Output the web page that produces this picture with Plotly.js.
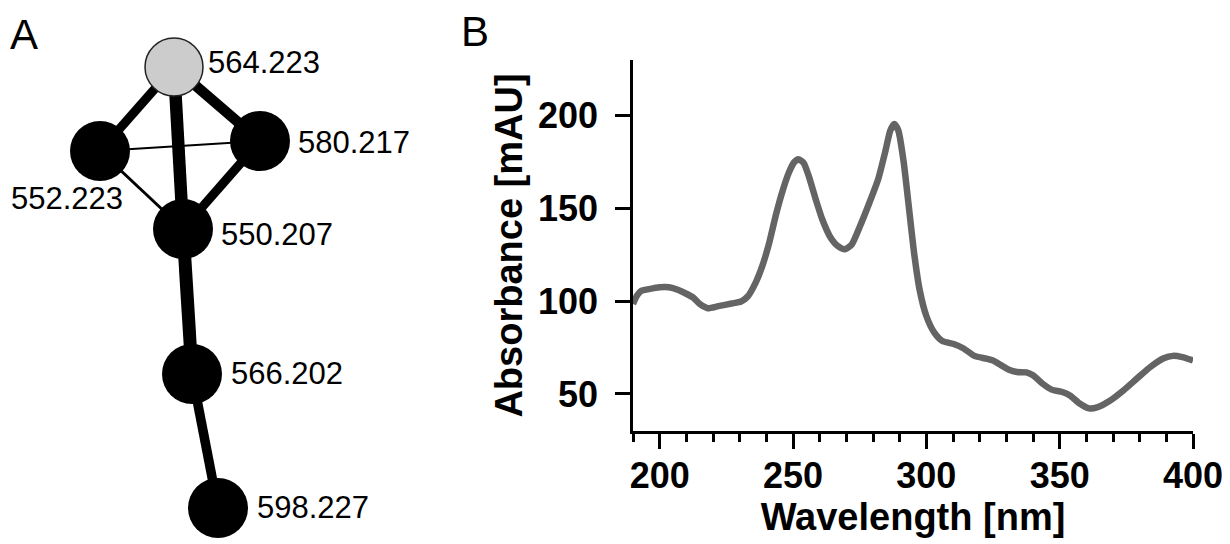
<!DOCTYPE html>
<html>
<head>
<meta charset="utf-8">
<script src="https://cdn.plot.ly/plotly-3.0.1.min.js"></script>
<style>
  html, body { margin: 0; padding: 0; background: #ffffff; }
  #chart { width: 1230px; height: 544px; }
</style>
</head>
<body>
<div id="chart"></div>
<script>
// ---------- Panel A: network ----------
const nodeLabels = ['564.223', '552.223', '580.217', '550.207', '566.202', '598.227'];
const nodeLayoutX = [17.4, 10.0, 26.0, 18.3, 19.2, 21.8];
const nodeLayoutY = [47.7, 39.3, 40.3, 31.5, 17.0, 3.6];
const nodeHighlighted = [true, false, false, false, false, false];
const edgeFrom = [0, 0, 0, 1, 1, 2, 3, 4];
const edgeTo = [1, 2, 3, 2, 3, 3, 4, 5];
const edgeWeight = [4.5, 5.25, 6.25, 1, 1.5, 4.5, 6.5, 4.75];

// ---------- Panel B: UV spectrum ----------
const wavelength = [190, 191.5, 193, 196, 200, 203.5, 207, 210, 212.5, 215, 218, 222, 227, 230.5, 233, 236,
  238.5, 241, 243.5, 246, 248.5, 250.5, 252, 254, 256, 258.5, 261, 264, 267, 269.5, 272, 275, 278.5, 282,
  284.5, 286.5, 288, 289.5, 291.5, 293.5, 295.5, 297.5, 300, 303, 306, 310.5, 314, 318, 322.5, 325, 328,
  331, 334, 337.5, 340, 343.5, 347, 351, 354, 357.5, 361, 364, 368.5, 374, 379, 384, 389, 392.5, 396, 400];
const absorbance = [98.5, 103, 105.5, 106.5, 107.5, 107.5, 106, 104, 102, 98.5, 96.2, 97.3, 98.7, 99.8, 102.5, 110,
  119, 131, 146, 159, 169.5, 175, 176.5, 174.5, 167, 155, 144, 134.5, 129.5, 128, 130.5, 140, 152.5, 166,
  180, 192, 195.5, 192, 175, 150, 125, 106, 92, 83, 78.5, 76.8, 74.5, 70.5, 69, 68, 65.5,
  63, 61.8, 61.6, 60, 55.6, 52.3, 51, 49, 44.8, 42.2, 42.7, 46, 52, 58.3, 64.5, 69.2, 70.5, 69.8, 68];
const xTickStart = 200, xTickStep = 50, xMinorStep = 10;
const yTickStart = 50, yTickStep = 50;
const xTitle = 'Wavelength [nm]';
const yTitle = 'Absorbance [mAU]';

// ---------- build ----------
const W = 1230, H = 544;
const FONT = 'Liberation Sans, Arial, Helvetica, sans-serif';
const traces = [];

edgeFrom.forEach((f, i) => {
  const t = edgeTo[i];
  traces.push({
    type: 'scatter', mode: 'lines', xaxis: 'x2', yaxis: 'y2',
    x: [nodeLayoutX[f], nodeLayoutX[t]], y: [nodeLayoutY[f], nodeLayoutY[t]],
    line: { color: '#000000', width: edgeWeight[i] * 2 },
    hoverinfo: 'skip', showlegend: false
  });
});

traces.push({
  type: 'scatter', mode: 'markers', xaxis: 'x2', yaxis: 'y2',
  x: nodeLayoutX, y: nodeLayoutY, text: nodeLabels, hoverinfo: 'text',
  marker: {
    size: nodeHighlighted.map(h => h ? 58 : 60),
    opacity: 1,
    color: nodeHighlighted.map(h => h ? '#cccccc' : '#000000'),
    line: { color: '#222222', width: nodeHighlighted.map(h => h ? 1.5 : 0) }
  },
  showlegend: false
});

traces.push({
  type: 'scatter', mode: 'lines', xaxis: 'x', yaxis: 'y',
  x: wavelength, y: absorbance,
  line: { color: '#646464', width: 6.5, shape: 'spline', smoothing: 0.6 },
  showlegend: false
});

// label offsets (px) for node labels
const labelStyle = [
  { xanchor: 'left', xshift: 32, yshift: 5 },
  { xanchor: 'right', xshift: 25, yshift: -47 },
  { xanchor: 'left', xshift: 36, yshift: -1 },
  { xanchor: 'left', xshift: 36, yshift: -5.5 },
  { xanchor: 'left', xshift: 37, yshift: 1 },
  { xanchor: 'left', xshift: 37, yshift: 1 }
];
const annotations = nodeLabels.map((lab, i) => Object.assign({
  xref: 'x2', yref: 'y2', x: nodeLayoutX[i], y: nodeLayoutY[i], text: lab,
  showarrow: false, yanchor: 'middle',
  font: { family: FONT, size: 31, color: '#000000' }
}, labelStyle[i]));

annotations.push({
  xref: 'paper', yref: 'paper', x: 8 / W, y: 1 - 34 / H, xanchor: 'left', yanchor: 'middle',
  text: 'A', showarrow: false, font: { family: FONT, size: 42, color: '#000000' }
});
annotations.push({
  xref: 'paper', yref: 'paper', x: 459 / W, y: 1 - 31 / H, xanchor: 'left', yanchor: 'middle',
  text: 'B', showarrow: false, font: { family: FONT, size: 42, color: '#000000' }
});

const tickFont = { family: FONT, size: 36, color: '#000000', weight: 'bold' };
const titleFont = { family: FONT, size: 38, color: '#000000', weight: 'bold' };

const layout = {
  width: W, height: H,
  margin: { l: 0, r: 0, t: 0, b: 0, pad: 0 },
  paper_bgcolor: '#ffffff', plot_bgcolor: 'rgba(0,0,0,0)',
  showlegend: false,
  xaxis: {
    domain: [633 / W, 1193 / W], anchor: 'y',
    range: [190, 400], tickmode: 'linear', tick0: xTickStart, dtick: xTickStep,
    ticks: 'outside', ticklen: 15, tickwidth: 2.5, tickcolor: '#000000',
    minor: { dtick: xMinorStep, tick0: xTickStart, ticks: 'outside', ticklen: 8, tickwidth: 2.5, tickcolor: '#000000', showgrid: false },
    showline: true, linewidth: 2.5, linecolor: '#000000',
    showgrid: false, zeroline: false, tickfont: tickFont, ticklabelstandoff: -4,
    title: { text: xTitle, font: titleFont, standoff: 2 },
    fixedrange: true
  },
  yaxis: {
    domain: [(H - 431) / H, (H - 60) / H], anchor: 'x',
    range: [30, 230], tickmode: 'linear', tick0: yTickStart, dtick: yTickStep,
    ticks: 'outside', ticklen: 15, tickwidth: 2.5, tickcolor: '#000000',
    showline: true, linewidth: 2.5, linecolor: '#000000',
    showgrid: false, zeroline: false, tickfont: tickFont, ticklabelstandoff: 10,
    title: { text: yTitle, font: titleFont, standoff: 4 },
    fixedrange: true
  },
  xaxis2: { domain: [0, 0.4], anchor: 'y2', range: [0, 49.2], visible: false, fixedrange: true },
  yaxis2: { domain: [0, 1], anchor: 'x2', range: [0, 54.4], visible: false, fixedrange: true },
  annotations: annotations
};

Plotly.newPlot('chart', traces, layout, { displayModeBar: false, responsive: false });
</script>
</body>
</html>
